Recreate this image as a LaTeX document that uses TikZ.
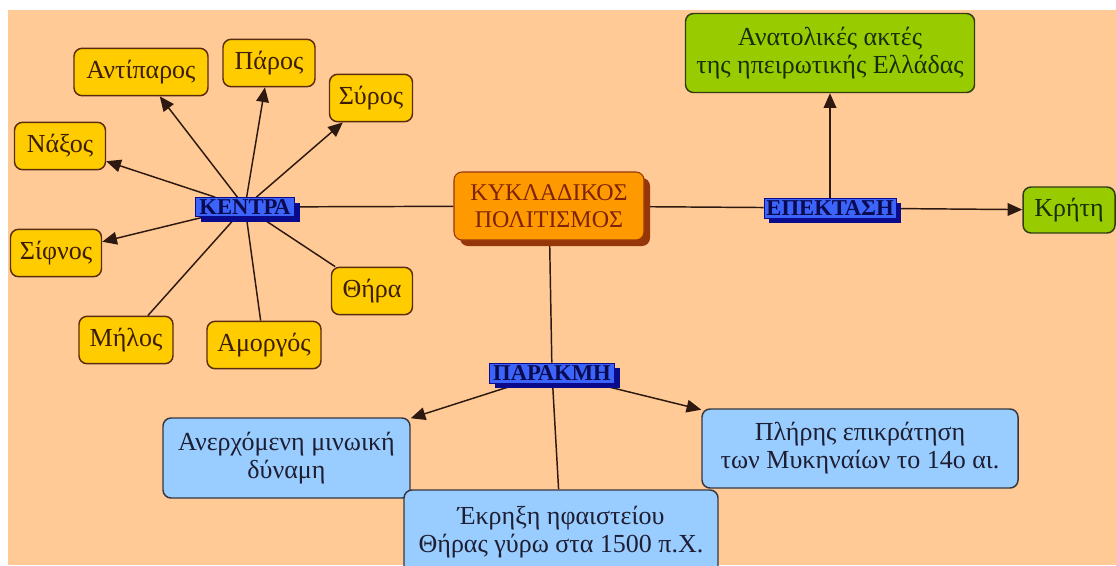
\documentclass[tikz,border=0pt]{standalone}
\usepackage{fontspec}
\setmainfont{Liberation Serif}
\usetikzlibrary{arrows.meta,shadows}
\definecolor{bgpeach}{RGB}{255,202,150}
\definecolor{yel}{RGB}{255,204,0}
\definecolor{yelborder}{RGB}{90,45,15}
\definecolor{yeltext}{RGB}{60,30,5}
\definecolor{grn}{RGB}{153,204,0}
\definecolor{grnborder}{RGB}{50,60,20}
\definecolor{grntext}{RGB}{25,45,10}
\definecolor{lblue}{RGB}{153,204,255}
\definecolor{lblueborder}{RGB}{55,55,65}
\definecolor{lbluetext}{RGB}{30,30,50}
\definecolor{orng}{RGB}{255,153,0}
\definecolor{orngshadow}{RGB}{150,55,10}
\definecolor{orngtext}{RGB}{125,35,10}
\definecolor{lblfill}{RGB}{60,100,250}
\definecolor{lblshadow}{RGB}{10,10,140}
\definecolor{lbltext}{RGB}{10,10,80}
\definecolor{edgecol}{RGB}{45,25,15}
\pgfdeclarelayer{bg}
\pgfdeclarelayer{edges}
\pgfsetlayers{bg,edges,main}
\tikzset{
  box/.style={draw, rounded corners=6pt, line width=1.1pt, align=center, inner sep=0pt,
    font=\fontsize{19.5}{21}\selectfont},
  isle/.style={box, fill=yel, draw=yelborder, text=yeltext, minimum height=35.5pt},
  greenbox/.style={box, fill=grn, draw=grnborder, text=grntext},
  bluebox/.style={box, fill=lblue, draw=lblueborder, text=lbluetext},
  core/.style={box, fill=orng, draw=orngshadow, text=orngtext, line width=0.8pt,
    font=\fontsize{18}{20.5}\selectfont,
    drop shadow={shadow xshift=4.5pt, shadow yshift=-4.5pt, fill=orngshadow, opacity=1}},
  linkword/.style={rectangle, fill=lblfill, draw=lblshadow, line width=0.5pt, text=lbltext,
    inner sep=0pt, font=\bfseries\fontsize{17}{17}\selectfont,
    drop shadow={shadow xshift=3.75pt, shadow yshift=-3.75pt, fill=lblshadow, opacity=1}},
  conn/.style={draw=edgecol, line width=1.1pt},
  arr/.style={conn, -{Triangle[length=11pt,width=9.5pt]}}
}
\begin{document}
\begin{tikzpicture}[x=0.75pt,y=-0.75pt]
\useasboundingbox (0,0) rectangle (1116,565);
\clip (0,0) rectangle (1116,565);
\begin{pgfonlayer}{bg}
\fill[white] (0,0) rectangle (1116,565);
\fill[bgpeach] (8,10) rectangle (1116,565);
\end{pgfonlayer}

\node[isle, minimum width=100.5pt] (antiparos) at (141,72) {Αντίπαρος};
\node[isle, minimum width=69pt] (paros) at (269,63) {Πάρος};
\node[isle, minimum width=62.25pt] (syros) at (371,98) {Σύρος};
\node[isle, minimum width=68.25pt] (naxos) at (60,146) {Νάξος};
\node[isle, minimum width=68.25pt] (sifnos) at (56,253) {Σίφνος};
\node[isle, minimum width=70.5pt] (milos) at (126,340) {Μήλος};
\node[isle, minimum width=85.5pt] (amorgos) at (264,345) {Αμοργός};
\node[isle, minimum width=60.75pt] (thira) at (372,291) {Θήρα};

\node[core, minimum width=142.5pt, minimum height=51pt] (core) at (549,206) {ΚΥΚΛΑΔΙΚΟΣ\\ΠΟΛΙΤΙΣΜΟΣ};

\node[linkword, minimum width=74.25pt, minimum height=14.25pt] (kentra) at (245,207) {ΚΕΝΤΡΑ};
\node[linkword, minimum width=99pt, minimum height=15pt] (epektasi) at (830,208) {ΕΠΕΚΤΑΣΗ};
\node[linkword, minimum width=93.75pt, minimum height=15pt] (parakmi) at (552,373) {ΠΑΡΑΚΜΗ};

\node[greenbox, minimum width=216.75pt, minimum height=59.25pt] (anat) at (830,53) {Ανατολικές ακτές\\της ηπειρωτικής Ελλάδας};
\node[greenbox, minimum width=69pt, minimum height=34.5pt] (kriti) at (1069,210) {Κρήτη};

\node[bluebox, minimum width=185.25pt, minimum height=60pt] (minoan) at (286.5,458) {Ανερχόμενη μινωική\\δύναμη};
\node[bluebox, minimum width=237pt, minimum height=59.25pt] (myc) at (860,448.5) {Πλήρης επικράτηση\\των Μυκηναίων το 14ο αι.};
\node[bluebox, minimum width=235.5pt, minimum height=63pt] (erupt) at (561,532) {Έκρηξη ηφαιστείου\\Θήρας γύρω στα 1500 π.Χ.};

\begin{pgfonlayer}{edges}
\draw[conn] (core) -- (kentra);
\draw[arr] (kentra) -- (antiparos);
\draw[arr] (kentra) -- (paros);
\draw[arr] (kentra) -- (syros);
\draw[arr] (kentra) -- (naxos);
\draw[arr] (kentra) -- (sifnos);
\draw[conn] (kentra) -- (milos);
\draw[conn] (kentra) -- (amorgos);
\draw[conn] (kentra) -- (thira);
\draw[conn] (core) -- (epektasi);
\draw[arr] (epektasi) -- (kriti);
\draw[arr] (epektasi) -- (anat);
\draw[conn] (core) -- (parakmi);
\draw[arr] (parakmi) -- (minoan);
\draw[arr] (parakmi) -- (myc);
\draw[conn] (parakmi) -- (erupt);
\end{pgfonlayer}
\end{tikzpicture}
\end{document}
